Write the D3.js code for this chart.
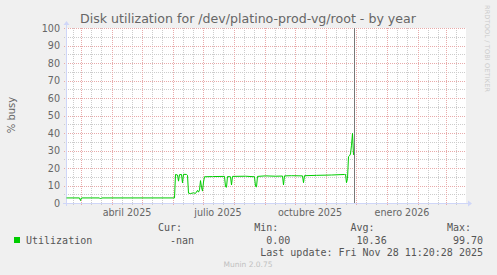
<!DOCTYPE html>
<html>
<head>
<meta charset="utf-8">
<script src="https://cdn.jsdelivr.net/npm/d3@7"></script>
<style>
    body { margin: 0; background: #F0F0F0; }
    svg { display: block; }
    .sans { font-family: "DejaVu Sans", sans-serif; }
    .mono { font-family: "DejaVu Sans Mono", monospace; }
</style>
</head>
<body>
<svg id="chart" width="497" height="275"></svg>
<script>
// values
const dates = [
    "2025-02-14", "2025-02-27", "2025-02-28", "2025-03-01", "2025-03-19", "2025-03-20", "2025-03-21",
    "2025-06-02", "2025-06-03", "2025-06-05", "2025-06-06", "2025-06-07", "2025-06-09", "2025-06-10",
    "2025-06-11", "2025-06-14", "2025-06-15", "2025-06-16", "2025-06-18", "2025-06-21", "2025-06-23",
    "2025-06-25", "2025-06-26", "2025-06-27", "2025-06-28", "2025-06-29", "2025-06-30", "2025-07-01",
    "2025-07-02", "2025-07-10", "2025-07-22", "2025-07-23", "2025-07-24", "2025-07-25", "2025-07-28",
    "2025-07-29", "2025-07-30", "2025-08-12", "2025-08-21", "2025-08-22", "2025-08-23", "2025-08-24",
    "2025-09-01", "2025-09-11", "2025-09-18", "2025-09-19", "2025-09-20", "2025-09-27", "2025-10-08",
    "2025-10-09", "2025-10-10", "2025-10-22", "2025-11-06", "2025-11-19", "2025-11-20", "2025-11-21",
    "2025-11-22", "2025-11-23", "2025-11-24", "2025-11-25", "2025-11-26", "2025-11-27", "2025-11-28"
];
const busy = [
    2.9, 2.9, 1.4, 2.9, 2.9, 2.3, 2.9,
    2.9, 16.3, 16.0, 12.5, 16.2, 16.3, 11.5,
    16.4, 16.3, 15.8, 5.6, 5.4, 5.8, 5.5,
    7.2, 6.2, 7.5, 12.8, 9.0, 6.8, 12.0,
    15.0, 15.1, 15.2, 9.3, 9.0, 15.1, 15.0,
    10.3, 15.2, 15.3, 15.0, 9.5, 9.2, 15.2,
    15.5, 15.3, 15.4, 10.3, 15.5, 15.6, 15.5,
    11.6, 15.6, 15.8, 16.0, 16.3, 16.3, 11.6,
    14.0, 26.5, 27.0, 28.0, 33.0, 39.8, 27.5
];

const yTicks = [0, 10, 20, 30, 40, 50, 60, 70, 80, 90, 100];
const labelMonths = ["2025-04-01", "2025-07-01", "2025-10-01", "2026-01-01"];
const labelNames = ["abril 2025", "julio 2025", "octubre 2025", "enero 2026"];

const legendHeads = ["Cur:", "Min:", "Avg:", "Max:"];
const legendValues = ["-nan", "0.00", "10.36", "99.70"];

const rangeStart = "2025-02-14";
const rangeEnd = "2026-03-21";
const lastUpdate = "2025-11-28T11:20:28Z";

/** Class drawing the munin style graph. */
class DiskGraph {
    constructor() {
        this.svg = d3.select("#chart");
        this.x = d3.scaleUtc()
            .domain([new Date(rangeStart), new Date(rangeEnd)])
            .range([66, 466]);
        this.y = d3.scaleLinear().domain([0, 100]).range([203, 28]);
    }

    drawCanvas() {
        this.svg.append("rect")
            .attr("x", 66).attr("y", 28)
            .attr("width", 400).attr("height", 175)
            .attr("fill", "#ffffff");

        // 1px dotted patterns, so the grid does not depend on dash rendering
        let defs = this.svg.append("defs");
        let dots = [["minor-v", 1, 2, "#cccccc"], ["major-v", 1, 2, "#e8aaaa"],
                    ["minor-h", 2, 1, "#cccccc"], ["major-h", 2, 1, "#e8aaaa"]];
        dots.forEach(function (p) {
            defs.append("pattern")
                .attr("id", p[0])
                .attr("patternUnits", "userSpaceOnUse")
                .attr("width", p[1]).attr("height", p[2])
                .append("rect")
                .attr("width", 1).attr("height", 1)
                .attr("fill", p[3]);
        });
    }

    drawGrid() {
        let x = this.x, y = this.y;
        let g = this.svg.append("g").attr("shape-rendering", "crispEdges");

        // minor lines: every 5 % and the 11th / 21st of each month
        let minorY = d3.range(5, 100, 10);
        let days = d3.utcDay.range(x.domain()[0], x.domain()[1])
            .filter(d => d.getUTCDate() === 11 || d.getUTCDate() === 21);
        let months = d3.utcMonth.range(x.domain()[0], x.domain()[1]);

        g.selectAll(".minor-y").data(minorY).enter().append("rect")
            .attr("x", 64).attr("width", 402)
            .attr("y", d => Math.round(y(d))).attr("height", 1)
            .attr("fill", "url(#minor-h)");

        g.selectAll(".minor-x").data(days).enter().append("rect")
            .attr("x", d => Math.round(x(d))).attr("width", 1)
            .attr("y", 28).attr("height", 178)
            .attr("fill", "url(#minor-v)");

        g.selectAll(".major-y").data(yTicks).enter().append("rect")
            .attr("x", 63).attr("width", 403)
            .attr("y", d => Math.round(y(d))).attr("height", 1)
            .attr("fill", "url(#major-h)");

        g.selectAll(".major-x").data(months).enter().append("rect")
            .attr("x", d => Math.round(x(d))).attr("width", 1)
            .attr("y", 28).attr("height", 178)
            .attr("fill", "url(#major-v)");
    }

    drawAxes() {
        let g = this.svg.append("g");
        // axis lines with rrdtool style arrows
        g.append("line").attr("x1", 63).attr("x2", 469)
            .attr("y1", 203.5).attr("y2", 203.5)
            .attr("stroke", "#CFD6F8");
        g.append("path").attr("d", "M468,200.5 L472,203.5 L468,206.5 Z").attr("fill", "#CFD6F8");
        g.append("line").attr("x1", 66.5).attr("x2", 66.5)
            .attr("y1", 206).attr("y2", 24)
            .attr("stroke", "#CFD6F8");
        g.append("path").attr("d", "M63.5,25 L66.5,21 L69.5,25 Z").attr("fill", "#CFD6F8");

        let y = this.y, x = this.x;
        this.svg.append("g").selectAll("text").data(yTicks).enter().append("text")
            .attr("class", "sans")
            .attr("x", 60).attr("y", d => y(d) + 3.5)
            .attr("text-anchor", "end")
            .attr("font-size", "9.6px").attr("fill", "#666666")
            .text(d => d);

        this.svg.append("g").selectAll("text").data(labelMonths).enter().append("text")
            .attr("class", "sans")
            .attr("x", d => x(d3.utcDay.offset(new Date(d), 15)))
            .attr("y", 216)
            .attr("text-anchor", "middle")
            .attr("font-size", "9.6px").attr("fill", "#666666")
            .text((d, i) => labelNames[i]);

        this.svg.append("text").attr("class", "sans")
            .attr("transform", "translate(15,115) rotate(-90)")
            .attr("text-anchor", "middle")
            .attr("font-size", "10px").attr("fill", "#666666")
            .text("% busy");
    }

    drawLine() {
        let x = this.x, y = this.y;
        let points = dates.map((d, i) => [new Date(d), busy[i]]);
        let line = d3.line()
            .x(d => x(d[0]) + 0.5)
            .y(d => y(d[1]));
        this.svg.append("path")
            .datum(points)
            .attr("d", line)
            .attr("fill", "none")
            .attr("stroke", "#00CC00")
            .attr("stroke-width", 1);

        // marker for the moment of the last update
        let now = Math.ceil(x(new Date(lastUpdate))) + 0.5;
        this.svg.append("line")
            .attr("x1", now).attr("x2", now)
            .attr("y1", 28).attr("y2", 203)
            .attr("stroke", "#777777");
    }

    drawTexts() {
        this.svg.append("text").attr("class", "sans")
            .attr("x", 248).attr("y", 23)
            .attr("text-anchor", "middle")
            .attr("font-size", "12.6px").attr("fill", "#666666")
            .text("Disk utilization for /dev/platino-prod-vg/root - by year");

        this.svg.append("text").attr("class", "sans")
            .attr("transform", "translate(485,5) rotate(90)")
            .attr("font-size", "6.5px").attr("fill", "#cccccc")
            .attr("textLength", 87)
            .text("RRDTOOL / TOBI OETIKER");

        // legend block
        this.svg.append("rect")
            .attr("x", 14).attr("y", 237)
            .attr("width", 6).attr("height", 6)
            .attr("fill", "#00CC00");
        this.svg.append("text").attr("class", "mono")
            .attr("x", 26).attr("y", 243.5)
            .attr("font-size", "10px").attr("fill", "#555555")
            .text("Utilization");

        let colX = d3.scaleLinear().domain([0, 3]).range([194, 483]);
        this.svg.append("g").selectAll("text").data(legendHeads).enter().append("text")
            .attr("class", "mono")
            .attr("x", (d, i) => colX(i) - 12).attr("y", 231)
            .attr("text-anchor", "end")
            .attr("font-size", "10px").attr("fill", "#555555")
            .text(d => d);
        this.svg.append("g").selectAll("text").data(legendValues).enter().append("text")
            .attr("class", "mono")
            .attr("x", (d, i) => colX(i)).attr("y", 243.5)
            .attr("text-anchor", "end")
            .attr("font-size", "10px").attr("fill", "#555555")
            .text(d => d);

        this.svg.append("text").attr("class", "mono")
            .attr("x", 483).attr("y", 255.5)
            .attr("text-anchor", "end")
            .attr("font-size", "10px").attr("fill", "#555555")
            .text("Last update: Fri Nov 28 11:20:28 2025");

        this.svg.append("text").attr("class", "sans")
            .attr("x", 248).attr("y", 267)
            .attr("text-anchor", "middle")
            .attr("font-size", "7.5px").attr("fill", "#c0c0c0")
            .text("Munin 2.0.75");
    }

    render() {
        this.drawCanvas();
        this.drawGrid();
        this.drawAxes();
        this.drawLine();
        this.drawTexts();
    }
}

new DiskGraph().render();
</script>
</body>
</html>
